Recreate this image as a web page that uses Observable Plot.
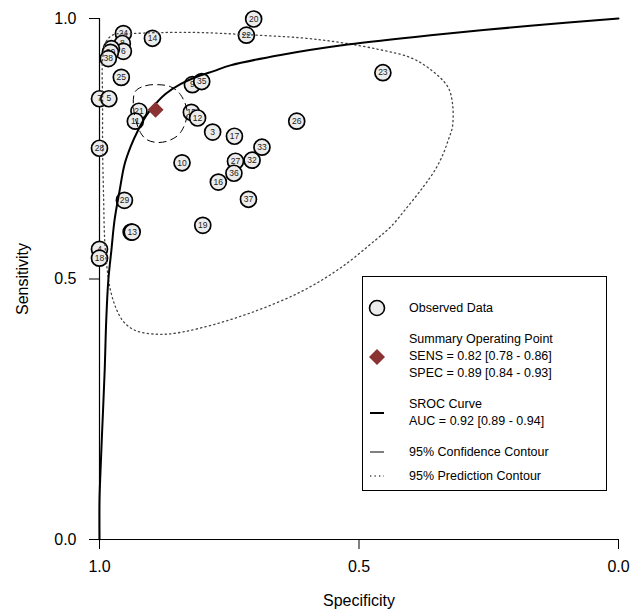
<!DOCTYPE html>
<html><head><meta charset="utf-8">
<script src="https://cdn.jsdelivr.net/npm/d3@7"></script>
<script src="https://cdn.jsdelivr.net/npm/@observablehq/plot@0.6"></script>
<style>body{margin:0;background:#fff} svg{display:block}</style>
</head><body><div id="chart"></div>
<script>
// Observed studies
const studyIds  = ["24","8","6","34","30","38","14","20","22","25","7","5","9","35","21","11","15","12","3","17","33","26","23","28","10","27","32","36","16","37","29","31","13","19","4","18"];
const studySpec = [0.954,0.956,0.954,0.977,0.979,0.983,0.898,0.703,0.717,0.958,1.000,0.982,0.821,0.803,0.924,0.931,0.823,0.811,0.782,0.740,0.687,0.620,0.454,1.000,0.841,0.738,0.706,0.741,0.771,0.713,0.952,0.939,0.937,0.801,1.000,1.000];
const studySens = [0.971,0.952,0.937,0.942,0.935,0.923,0.962,0.999,0.968,0.887,0.846,0.846,0.873,0.879,0.822,0.803,0.820,0.809,0.782,0.774,0.753,0.803,0.896,0.751,0.723,0.726,0.728,0.703,0.686,0.653,0.651,0.590,0.590,0.603,0.557,0.540];

// Summary operating point
const summarySpec = [0.892];
const summarySens = [0.825];

// SROC curve
const srocSpec = [1.000,1.000,0.998,0.994,0.990,0.987,0.983,0.977,0.971,0.961,0.952,0.940,0.925,0.909,0.892,0.873,0.844,0.805,0.780,0.748,0.651,0.522,0.362,0.170,0.000];
const srocSens = [0.000,0.075,0.133,0.229,0.325,0.421,0.498,0.556,0.613,0.671,0.719,0.754,0.787,0.815,0.836,0.855,0.874,0.891,0.899,0.910,0.930,0.950,0.968,0.986,1.000];

// 95% confidence contour
const confSpec = [0.931,0.911,0.888,0.863,0.844,0.831,0.844,0.863,0.886,0.908,0.921,0.934];
const confSens = [0.860,0.871,0.873,0.869,0.854,0.819,0.781,0.767,0.762,0.767,0.781,0.825];

// 95% prediction contour
const predSpec = [0.994,0.987,0.973,0.940,0.882,0.805,0.717,0.613,0.536,0.459,0.401,0.362,0.329,0.320,0.320,0.328,0.337,0.353,0.376,0.407,0.439,0.468,0.536,0.613,0.709,0.805,0.873,0.921,0.940,0.956,0.969,0.979,0.985,0.990,0.992,0.994,0.994];
const predSens = [0.921,0.956,0.969,0.971,0.973,0.973,0.969,0.963,0.954,0.940,0.925,0.902,0.869,0.838,0.792,0.767,0.742,0.710,0.677,0.638,0.600,0.575,0.521,0.475,0.435,0.406,0.394,0.398,0.406,0.421,0.446,0.479,0.517,0.575,0.652,0.748,0.844];

const xTicks = [1, 0.5, 0];
const yTicks = [0, 0.5, 1];
const xLabel = "Specificity";
const yLabel = "Sensitivity";

const legendObserved = "Observed Data";
const legendSummary = ["Summary Operating Point", "SENS = 0.82 [0.78 - 0.86]", "SPEC = 0.89 [0.84 - 0.93]"];
const legendSroc = ["SROC Curve", "AUC = 0.92 [0.89 - 0.94]"];
const legendConf = "95% Confidence Contour";
const legendPred = "95% Prediction Contour";

const diamondColor = "#8b3333";

const studies = studyIds.map((id, i) => ({id, spec: studySpec[i], sens: studySens[i]}));
const summary = summarySpec.map((s, i) => ({spec: s, sens: summarySens[i]}));
const sroc = srocSpec.map((s, i) => ({spec: s, sens: srocSens[i]}));
const conf = confSpec.map((s, i) => ({spec: s, sens: confSens[i]}));
const pred = predSpec.map((s, i) => ({spec: s, sens: predSens[i]}));

const FONT = "'Liberation Sans', Arial, Helvetica, sans-serif";

// each study circle is drawn together with its label, so later circles cover earlier labels
const studyMarks = studies.flatMap(s => [
  Plot.dot([s], {x: "spec", y: "sens", r: 8, fill: "#ececec", stroke: "black", strokeWidth: 1.7}),
  Plot.text([s], {x: "spec", y: "sens", text: "id", fontSize: 8.5, fill: "#222"})
]);

const chart = Plot.plot({
  width: 632, height: 610,
  marginLeft: 99, marginRight: 14, marginTop: 18, marginBottom: 71,
  style: {fontFamily: FONT, background: "white", color: "black"},
  x: {domain: [1, 0]},
  y: {domain: [0, 1]},
  marks: [
    Plot.axisX({ticks: xTicks, tickFormat: d3.format(".1f"), tickSize: 10, tickPadding: 11, fontSize: 16, label: null}),
    Plot.axisY({ticks: yTicks, tickFormat: d3.format(".1f"), tickSize: 10, tickPadding: 13, fontSize: 16, label: null}),
    Plot.ruleX([1], {stroke: "black", strokeWidth: 1.2}),
    Plot.ruleY([0], {stroke: "black", strokeWidth: 1.2}),
    Plot.text([yLabel], {text: d => d, frameAnchor: "left", dx: -77, rotate: -90, fontSize: 16, textAnchor: "middle", lineAnchor: "middle"}),
    Plot.text([xLabel], {text: d => d, frameAnchor: "bottom", dy: 61, fontSize: 16, textAnchor: "middle", lineAnchor: "middle"}),
    ...studyMarks,
    Plot.line(pred, {x: "spec", y: "sens", stroke: "#444", strokeWidth: 1.3, strokeDasharray: "1.3,3.2", curve: "catmull-rom-closed"}),
    Plot.line(conf, {x: "spec", y: "sens", stroke: "black", strokeWidth: 1, strokeDasharray: "7,5", curve: "catmull-rom-closed"}),
    Plot.line(sroc, {x: "spec", y: "sens", stroke: "black", strokeWidth: 2, curve: "catmull-rom"}),
    Plot.dot(summary, {x: "spec", y: "sens", symbol: "diamond2", r: 7.2, fill: diamondColor, stroke: "none"})
  ]
});
document.getElementById("chart").append(chart);

// Legend inside the plot
const svg = d3.select(chart);
const lg = svg.append("g").attr("font-family", FONT).attr("font-size", 12.5).attr("fill", "black").attr("text-anchor", "start");
lg.append("rect").attr("x", 362.5).attr("y", 276.5).attr("width", 244).attr("height", 214)
  .attr("fill", "white").attr("stroke", "black").attr("stroke-width", 1);
const tx = 409, sx = 377;
lg.append("circle").attr("cx", sx).attr("cy", 308).attr("r", 7.5).attr("fill", "#ececec").attr("stroke", "black").attr("stroke-width", 1.6);
lg.append("text").attr("x", tx).attr("y", 308).attr("dy", "0.35em").text(legendObserved);
legendSummary.forEach((t, i) => lg.append("text").attr("x", tx).attr("y", 339 + i * 17).attr("dy", "0.35em").text(t));
lg.append("path").attr("d", d3.symbol(d3.symbolDiamond2, Math.PI * 7.2 * 7.2)()).attr("transform", `translate(${sx},357)`).attr("fill", diamondColor);
legendSroc.forEach((t, i) => lg.append("text").attr("x", tx).attr("y", 404 + i * 17).attr("dy", "0.35em").text(t));
lg.append("line").attr("x1", sx - 7).attr("x2", sx + 7).attr("y1", 413).attr("y2", 413).attr("stroke", "black").attr("stroke-width", 2);
lg.append("text").attr("x", tx).attr("y", 452).attr("dy", "0.35em").text(legendConf);
lg.append("line").attr("x1", sx - 7).attr("x2", sx + 7).attr("y1", 452).attr("y2", 452).attr("stroke", "black").attr("stroke-width", 1);
lg.append("text").attr("x", tx).attr("y", 476).attr("dy", "0.35em").text(legendPred);
lg.append("line").attr("x1", sx - 7).attr("x2", sx + 7).attr("y1", 476).attr("y2", 476).attr("stroke", "#444").attr("stroke-width", 1.3).attr("stroke-dasharray", "1.3,3.2");
</script>
</body></html>
